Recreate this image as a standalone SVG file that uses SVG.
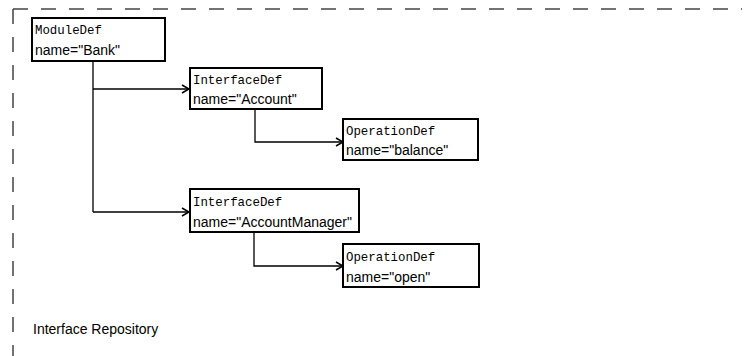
<svg xmlns="http://www.w3.org/2000/svg" width="751" height="356" viewBox="0 0 751 356">
<defs>
<marker id="arr" viewBox="0 0 10 10" refX="9" refY="5" markerWidth="10" markerHeight="10" markerUnits="userSpaceOnUse" orient="auto">
<path d="M2,1 L9,5 L2,9" fill="none" stroke="#000" stroke-width="1.6"/>
</marker>
</defs>
<style>
.box{fill:#fff;stroke:#000;stroke-width:2}
.t1{font-family:"Liberation Mono",monospace;font-size:12.4px;fill:#000}
.t2{font-family:"Liberation Sans",Arial,sans-serif;font-size:14px;fill:#000}
.conn{fill:none;stroke:#000;stroke-width:1.3}
.frame{fill:none;stroke:#444;stroke-width:1.5;stroke-dasharray:15 13}
</style>
<rect width="751" height="356" fill="#fff"/>
<g id="frame">
<path class="frame" d="M13,9 L742,9"/>
<path class="frame" d="M13,9 L13,356"/>
<text x="33" y="334" class="t2">Interface Repository</text>
</g>
<g id="connectors">
<path class="conn" d="M93,61 L93,212"/>
<path class="conn" d="M93,89 L189,89" marker-end="url(#arr)"/>
<path class="conn" d="M93,212 L189,212" marker-end="url(#arr)"/>
<path class="conn" d="M255,109 L255,142 L343,142" marker-end="url(#arr)"/>
<path class="conn" d="M254,232 L254,266 L343,266" marker-end="url(#arr)"/>
</g>
<g id="moduledef">
<rect class="box" x="32" y="18" width="133" height="43"/>
<text class="t1" x="35" y="34">ModuleDef</text>
<text class="t2" x="35" y="55">name="Bank"</text>
</g>
<g id="interface-account">
<rect class="box" x="190" y="68" width="132" height="41"/>
<text class="t1" x="193" y="84">InterfaceDef</text>
<text class="t2" x="193" y="104">name="Account"</text>
</g>
<g id="operation-balance">
<rect class="box" x="343" y="119" width="135" height="41"/>
<text class="t1" x="346" y="135">OperationDef</text>
<text class="t2" x="346" y="155">name="balance"</text>
</g>
<g id="interface-accountmanager">
<rect class="box" x="190" y="189" width="169" height="43"/>
<text class="t1" x="193" y="206">InterfaceDef</text>
<text class="t2" x="193" y="227">name="AccountManager"</text>
</g>
<g id="operation-open">
<rect class="box" x="343" y="244" width="136" height="43"/>
<text class="t1" x="346" y="261">OperationDef</text>
<text class="t2" x="346" y="282">name="open"</text>
</g>
</svg>
